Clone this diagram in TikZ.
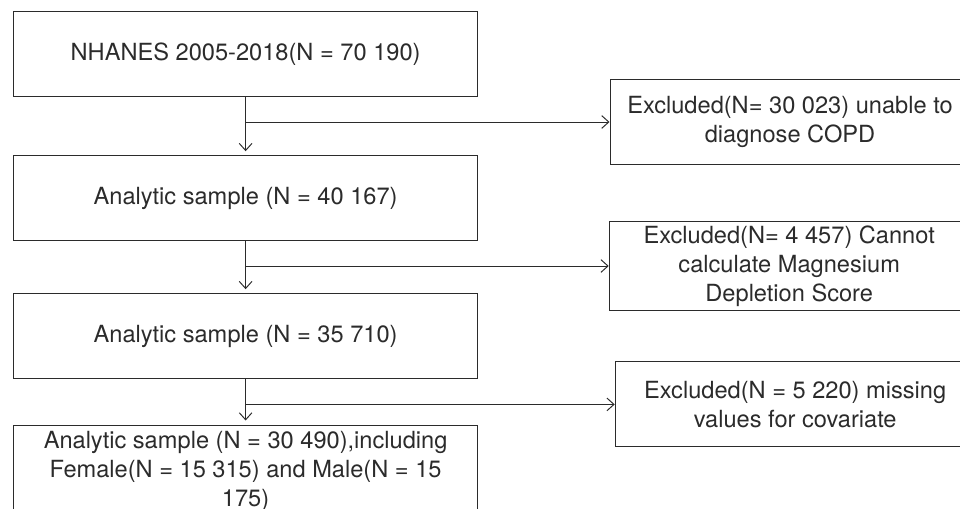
\documentclass[tikz,border=0pt]{standalone}
\usepackage{fontspec}
\setmainfont{TeX Gyre Heros}
\usetikzlibrary{arrows.meta}
\definecolor{ink}{HTML}{2B2B2B}

\tikzset{
  mainbox/.style={draw=ink, line width=0.7pt, text=ink, align=center,
    minimum width=11.6cm, minimum height=2.125cm,
    font=\fontsize{16.8}{20.5}\selectfont},
  exbox/.style={mainbox, minimum width=9cm},
  flow/.style={draw=ink, line width=0.7pt,
    -{Straight Barb[length=5pt,width=9pt]}}
}

\begin{document}
\begin{tikzpicture}
  \useasboundingbox (0,0) rectangle (24,-12.7);
  \clip (0,0) rectangle (24,-12.7);
  % main column
  \foreach \nm/\yc/\txt in {%
    n1/-1.36/NHANES 2005-2018(N = 70 190),
    n2/-4.96/Analytic sample (N = 40 167),
    n3/-8.41/Analytic sample (N = 35 710)} {
    \node[mainbox] (\nm) at (6.14, \yc) {\txt};
  }
  \node[mainbox, minimum height=2.3cm] (n4) at (6.14, -11.78)
    {Analytic sample (N = 30 490),including\\
     Female(N = 15 315) and Male(N = 15\\175)};
  % exclusions
  \node[exbox] (e1) at (19.75, -3.05)
    {Excluded(N= 30 023) unable to\\diagnose COPD};
  \node[exbox] (e2) at (19.73, -6.65)
    {Excluded(N= 4 457) Cannot\\calculate Magnesium\\Depletion Score};
  \node[exbox] (e3) at (19.88, -10.11)
    {Excluded(N = 5 220) missing\\values for covariate};
  % arrows
  \foreach \a/\b/\e in {n1/n2/e1, n2/n3/e2, n3/n4/e3} {
    \draw[flow, shorten >=3pt] (\a.south) -- (\b.north);
    \draw[flow] (\a.south |- \e.west) -- (\e.west);
  }
\end{tikzpicture}
\end{document}
